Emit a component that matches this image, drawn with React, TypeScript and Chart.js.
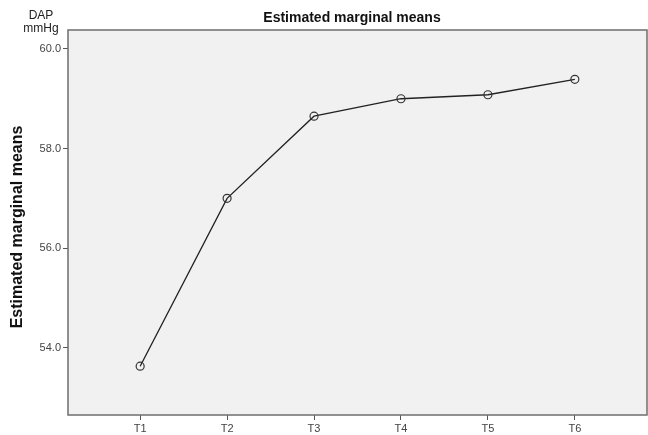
import React, { useEffect, useRef } from "react";
import { Chart, registerables } from "chart.js";

Chart.register(...registerables);

const categories = ["T1", "T2", "T3", "T4", "T5", "T6"];
const means = [53.63, 57.0, 58.65, 59.0, 59.08, 59.39];
const yTickValues = [54, 56, 58, 60];
const chartTitle = "Estimated marginal means";
const yAxisTitle = "Estimated marginal means";
const unitLines = ["DAP", "mmHg"];

const FONT = "'Liberation Sans', Arial, Helvetica, sans-serif";

export default function App() {
  const ref = useRef<HTMLCanvasElement | null>(null);

  useEffect(() => {
    document.body.style.margin = "0";
    const canvas = ref.current;
    if (!canvas) return;

    const decor = {
      id: "decor",
      beforeDraw(chart: any) {
        const { ctx, chartArea: a } = chart;
        ctx.save();
        ctx.fillStyle = "#f1f1f1";
        ctx.fillRect(a.left, a.top, a.right - a.left, a.bottom - a.top);
        ctx.restore();
      },
      afterDraw(chart: any) {
        const { ctx, chartArea: a } = chart;
        ctx.save();
        ctx.strokeStyle = "#6e6e6e";
        ctx.lineWidth = 1.5;
        ctx.strokeRect(a.left, a.top, a.right - a.left, a.bottom - a.top);

        ctx.fillStyle = "#111";
        ctx.font = `bold 14px ${FONT}`;
        ctx.textAlign = "center";
        ctx.textBaseline = "alphabetic";
        ctx.fillText(chartTitle, 352, 22);

        ctx.font = `12px ${FONT}`;
        ctx.fillStyle = "#222";
        ctx.fillText(unitLines[0], 41, 19);
        ctx.fillText(unitLines[1], 41, 32);

        ctx.translate(18, 227);
        ctx.rotate(-Math.PI / 2);
        ctx.font = `bold 16px ${FONT}`;
        ctx.fillStyle = "#111";
        ctx.textBaseline = "middle";
        ctx.fillText(yAxisTitle, 0, 0);
        ctx.restore();
      },
    };

    const chart = new Chart(canvas, {
      type: "line",
      data: {
        datasets: [
          {
            data: means.map((v, i) => ({ x: i + 1, y: v })),
            borderColor: "#222",
            borderWidth: 1.3,
            pointRadius: 4,
            pointBorderWidth: 1.2,
            pointBorderColor: "#333",
            pointBackgroundColor: "rgba(0,0,0,0)",
            fill: false,
            tension: 0,
          },
        ],
      },
      options: {
        animation: false,
        responsive: false,
        devicePixelRatio: 1,
        layout: { autoPadding: false, padding: { left: 0, right: 1, top: 30, bottom: 0 } },
        plugins: { legend: { display: false }, title: { display: false }, tooltip: { enabled: false } },
        scales: {
          x: {
            type: "linear",
            min: 0.17,
            max: 6.83,
            afterBuildTicks: (s: any) => {
              s.ticks = categories.map((_, i) => ({ value: i + 1 }));
            },
            afterFit: (s: any) => {
              s.height = 20;
              s.paddingRight = 0;
              s.paddingLeft = 0;
            },
            ticks: {
              callback: (v: any) => categories[Math.round(Number(v)) - 1] ?? "",
              color: "#444",
              font: { size: 11, family: FONT },
              padding: 2,
              maxRotation: 0,
              autoSkip: false,
            },
            grid: { drawOnChartArea: false, drawTicks: true, tickLength: 5, color: "#555" },
            border: { display: false },
          },
          y: {
            min: 52.65,
            max: 60.38,
            afterBuildTicks: (s: any) => {
              s.ticks = yTickValues.map((v) => ({ value: v }));
            },
            afterFit: (s: any) => {
              s.width = 68;
              s.paddingTop = 0;
              s.paddingBottom = 0;
            },
            ticks: {
              callback: (v: any) => Number(v).toFixed(1),
              color: "#444",
              font: { size: 11, family: FONT },
              padding: 2,
            },
            grid: { drawOnChartArea: false, drawTicks: true, tickLength: 5, color: "#555" },
            border: { display: false },
          },
        },
      },
      plugins: [decor],
    });

    return () => chart.destroy();
  }, []);

  return (
    <div style={{ width: 648, height: 435 }}>
      <canvas ref={ref} width={648} height={435} style={{ display: "block" }} />
    </div>
  );
}
